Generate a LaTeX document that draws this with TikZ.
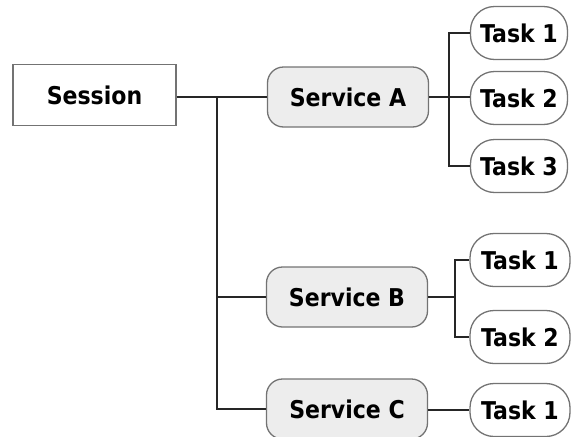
\documentclass[tikz,border=0pt]{standalone}
\usepackage{fontspec}
\setmainfont{DejaVu Sans Condensed}
\begin{document}
\begin{tikzpicture}[x=1pt,y=-1pt,
  base/.style={draw=black!55,line width=1.3pt,font=\fontsize{24.5}{27}\selectfont\bfseries,inner sep=0pt,text=black},
  sessbox/.style={base,fill=white,minimum width=163pt,minimum height=61pt},
  srvbox/.style={base,fill=black!7,rounded corners=16pt,minimum width=161pt,minimum height=60pt},
  taskbox/.style={base,fill=white,rounded corners=24pt,minimum width=97pt,minimum height=53pt},
  conn/.style={draw=black!85,line width=2pt}]
\useasboundingbox (0,0) rectangle (574,437);
\begin{scope}
\clip (0,0) rectangle (574,437);
\node[sessbox] (session) at (94.5,95) {Session};
\node[srvbox] (srvA) at (348,97) {Service A};
\node[srvbox] (srvB) at (347,297) {Service B};
\node[srvbox] (srvC) at (347,409) {Service C};
\node[taskbox] (tA1) at (519,33) {Task 1};
\node[taskbox] (tA2) at (519,98) {Task 2};
\node[taskbox] (tA3) at (519,166) {Task 3};
\node[taskbox,minimum width=100pt] (tB1) at (520,260) {Task 1};
\node[taskbox,minimum width=100pt] (tB2) at (520,337) {Task 2};
\node[taskbox,minimum width=100pt] (tC1) at (520,410) {Task 1};
\coordinate (j) at (217,97);
\coordinate (ba) at (449,97);
\coordinate (bb) at (455,297);
\draw[conn] (session.east |- j) -- (srvA.west |- j);
\draw[conn] (j) |- (srvB.west);
\draw[conn] (j) |- (srvC.west);
\draw[conn] (srvA.east |- ba) -- (tA2.west |- ba);
\draw[conn] (ba) |- (tA1.west);
\draw[conn] (ba) |- (tA3.west);
\draw[conn] (srvB.east) -- (bb);
\draw[conn] (bb) |- (tB1.west);
\draw[conn] (bb) |- (tB2.west);
\draw[conn] (srvC.east |- tC1.west) -- (tC1.west);
\end{scope}
\end{tikzpicture}
\end{document}
